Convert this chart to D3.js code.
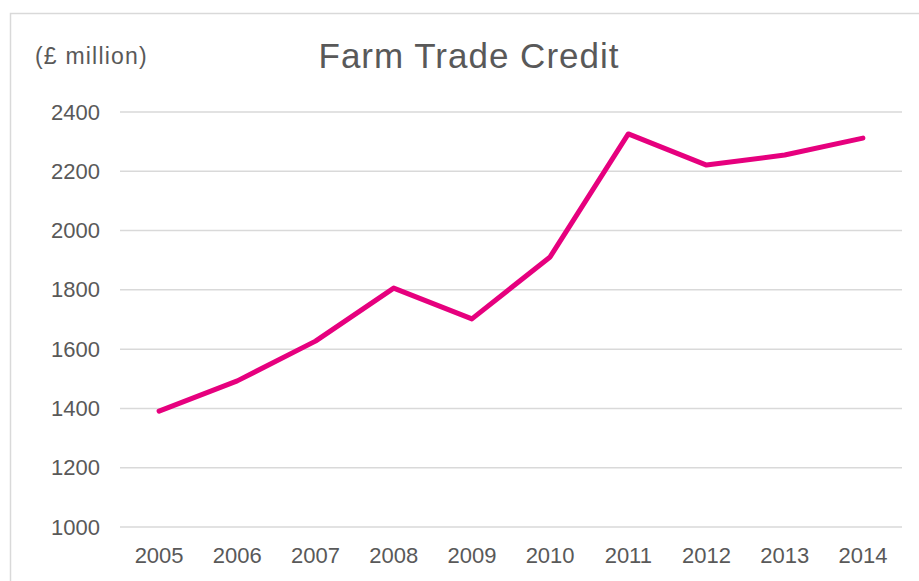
<!DOCTYPE html>
<html>
<head>
<meta charset="utf-8">
<script src="https://cdn.jsdelivr.net/npm/d3@7"></script>
<style>
  html, body { margin: 0; padding: 0; background: #fff; }
  svg { display: block; font-family: "Liberation Sans", Arial, sans-serif; }
</style>
</head>
<body>
<svg id="chart" width="919" height="581"></svg>
<script>
// Farm trade credit, £ million, by year
const years = ["2005", "2006", "2007", "2008", "2009", "2010", "2011", "2012", "2013", "2014"];
const credit = [1391, 1493, 1627, 1806, 1702, 1911, 2326, 2221, 2255, 2312];
const yTicks = [1000, 1200, 1400, 1600, 1800, 2000, 2200, 2400];

const svg = d3.select("#chart");
const W = 919, H = 581;
const margin = { left: 120, right: 17, top: 112, bottom: 54 };

// chart frame
svg.append("rect")
  .attr("x", 10.5).attr("y", 13.5)
  .attr("width", W + 20).attr("height", H + 20)
  .attr("fill", "#fff").attr("stroke", "#d9d9d9").attr("stroke-width", 1.5);

const x = d3.scaleBand().domain(years).range([margin.left, W - margin.right]);
const y = d3.scaleLinear().domain([1000, 2400]).range([H - margin.bottom, margin.top]);

// horizontal gridlines
svg.append("g")
  .selectAll("line")
  .data(yTicks)
  .join("line")
  .attr("x1", margin.left).attr("x2", W - margin.right)
  .attr("y1", d => y(d)).attr("y2", d => y(d))
  .attr("stroke", "#d9d9d9").attr("stroke-width", 1.5);

// y axis labels
const yAxis = svg.append("g")
  .attr("transform", `translate(${margin.left - 20},0)`)
  .call(d3.axisLeft(y).tickValues(yTicks).tickFormat(d3.format("d")).tickSize(0).tickPadding(0));
yAxis.select(".domain").remove();
yAxis.selectAll("text")
  .attr("fill", "#595959").style("font-size", "22px")
  .style("font-family", "'Liberation Sans', Arial, sans-serif");

// x axis labels
const xAxis = svg.append("g")
  .attr("transform", `translate(0,${H - margin.bottom})`)
  .call(d3.axisBottom(x).tickSize(0).tickPadding(20));
xAxis.select(".domain").remove();
xAxis.selectAll("text")
  .attr("fill", "#595959").style("font-size", "22px")
  .style("font-family", "'Liberation Sans', Arial, sans-serif");

// series line
const line = d3.line()
  .x((d, i) => x(years[i]) + x.bandwidth() / 2)
  .y(d => y(d));

svg.append("path")
  .datum(credit)
  .attr("d", line)
  .attr("fill", "none")
  .attr("stroke", "#e6007e")
  .attr("stroke-width", 5)
  .attr("stroke-linejoin", "round")
  .attr("stroke-linecap", "round");

// title and unit
svg.append("text")
  .attr("x", 469).attr("y", 68)
  .attr("text-anchor", "middle")
  .attr("fill", "#595959")
  .style("font-size", "35px")
  .style("letter-spacing", "1px")
  .text("Farm Trade Credit");

svg.append("text")
  .attr("x", 35).attr("y", 64)
  .attr("fill", "#595959")
  .style("font-size", "23px")
  .style("letter-spacing", "1.2px")
  .text("(£ million)");
</script>
</body>
</html>
